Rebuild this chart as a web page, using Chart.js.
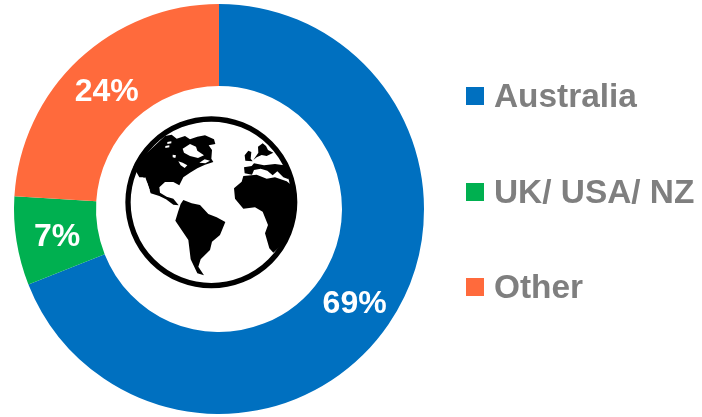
<!DOCTYPE html>
<html>
<head>
<meta charset="utf-8">
<script src="https://cdn.jsdelivr.net/npm/chart.js@4"></script>
<style>
  html, body { margin: 0; padding: 0; background: #fff; }
  #wrap { position: relative; width: 702px; height: 417px; overflow: hidden; }
  #legend { position: absolute; left: 466px; top: 0; font: bold 33.4px "Liberation Sans", Arial, sans-serif; color: #7f7f7f; }
  #legend div { position: absolute; white-space: nowrap; line-height: 36px; height: 36px; padding-left: 28px; }
  #legend i { position: absolute; left: 0; top: 9px; width: 18px; height: 18px; }
  #globe { position: absolute; left: 110px; top: 100px; }
</style>
</head>
<body>
<div id="wrap">
  <canvas id="chart" width="702" height="417"></canvas>
  <svg id="globe" width="220" height="200" viewBox="0 0 660 600">
    <circle cx="304" cy="307" r="250" fill="none" stroke="#000" stroke-width="16"/>
    <!-- north america -->
    <path d="M120 150 L165 108 L185 104 L200 116 L225 108 L240 118 L262 110 L285 106 L312 118 L316 132 L296 136 L306 150 L304 176 L310 186 L285 194 L262 205 L240 218 L220 232 L208 256 L190 246 L165 246 L148 262 L150 278 L170 290 L190 296 L206 316 L190 314 L168 298 L148 288 L122 280 L112 250 L100 232 L88 232 L70 200 Z"/>
    <!-- south america -->
    <path d="M220 300 L245 310 L270 315 L295 342 L320 352 L346 366 L330 405 L306 425 L300 450 L272 478 L265 500 L282 526 L262 520 L242 478 L235 420 L196 362 L204 336 L212 312 Z"/>
    <!-- africa -->
    <path d="M400 228 L440 224 L470 236 L495 232 L530 244 L548 258 L556 300 L548 360 L530 410 L508 442 L490 458 L478 445 L465 400 L474 375 L458 335 L435 322 L400 326 L375 296 L372 265 L395 245 Z"/>
    <!-- europe -->
    <path d="M402 202 L425 198 L432 190 L462 196 L495 192 L522 196 L534 215 L536 238 L520 232 L502 214 L488 226 L472 212 L452 206 L432 210 L426 224 L404 220 Z"/>
    <path d="M444 140 L458 130 L468 138 L474 150 L490 158 L470 168 L455 165 L440 172 L430 180 L445 158 Z"/>
    <path d="M404 166 L415 152 L424 156 L422 176 L428 184 L406 182 Z"/>
    <!-- hudson bay and arctic gaps -->
    <g fill="#fff">
      <path d="M218 146 L240 132 L258 140 L262 152 L282 166 L264 174 L240 168 L222 158 Z"/>
      <path d="M172 126 L184 124 L184 130 L172 132 Z M166 138 L178 136 L178 142 L166 144 Z M188 164 L198 166 L196 174 L188 172 Z"/>
      <path d="M205 184 L218 188 L232 196 L224 204 L212 196 Z M268 188 L284 178 L300 182 L286 190 Z"/>
      <path d="M100 235 L106 232 L120 272 L114 270 Z"/>
    </g>
  </svg>
  <div id="legend"></div>
</div>
<script>
const categories = ['Australia', 'UK/ USA/ NZ', 'Other'];
const shares = [69, 7, 24];
const colours = ['#0070c0', '#00b050', '#ff6a3c'];
const legendTops = [78, 174, 269];

// legend on the right
const legend = document.getElementById('legend');
categories.forEach(function (name, i) {
  const row = document.createElement('div');
  row.style.top = legendTops[i] + 'px';
  row.textContent = name;
  const box = document.createElement('i');
  box.style.background = colours[i];
  row.appendChild(box);
  legend.appendChild(row);
});

// percent labels in the middle of each ring segment
const sliceLabels = {
  id: 'sliceLabels',
  afterDatasetsDraw(chart) {
    const ctx = chart.ctx;
    ctx.save();
    ctx.fillStyle = '#fff';
    ctx.font = 'bold 32px "Liberation Sans", Arial, sans-serif';
    ctx.textAlign = 'center';
    ctx.textBaseline = 'middle';
    chart.getDatasetMeta(0).data.forEach(function (arc, i) {
      const p = arc.getCenterPoint();
      ctx.fillText(shares[i] + '%', p.x, p.y + 3);
    });
    ctx.restore();
  }
};

new Chart(document.getElementById('chart'), {
  type: 'doughnut',
  data: {
    labels: categories,
    datasets: [{ data: shares, backgroundColor: colours, borderWidth: 0 }]
  },
  options: {
    responsive: false,
    animation: false,
    cutout: '60%',
    layout: { padding: { left: 14, top: 4, right: 278, bottom: 3 } },
    plugins: { legend: { display: false }, tooltip: { enabled: false } }
  },
  plugins: [sliceLabels]
});
</script>
</body>
</html>
